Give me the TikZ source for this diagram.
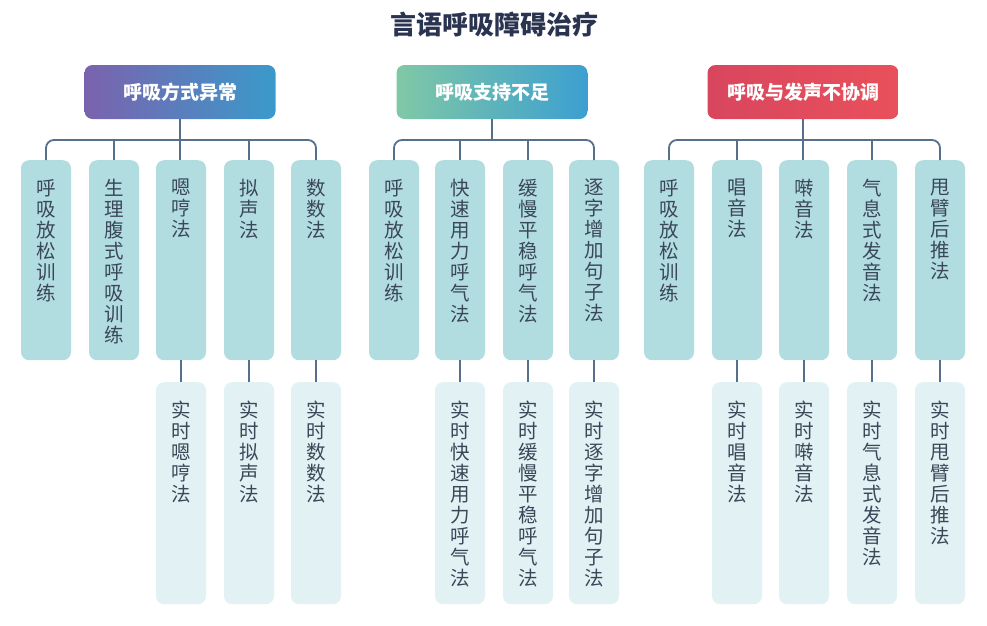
\documentclass[tikz,border=0pt]{standalone}
\usepackage{fontspec}
\usepackage{tikz}
\newfontfamily\cjk{Noto Sans CJK SC}
\definecolor{titlec}{HTML}{2A3350}
\definecolor{txtc}{HTML}{3A4758}
\definecolor{linec}{HTML}{55708A}
\definecolor{upfill}{HTML}{B2DDE0}
\definecolor{lowfill}{HTML}{E2F1F3}
\definecolor{hAl}{HTML}{7B62AE}
\definecolor{hAr}{HTML}{3A9ACB}
\definecolor{hBl}{HTML}{80C8A6}
\definecolor{hBr}{HTML}{3C9FD0}
\definecolor{hCl}{HTML}{D8465E}
\definecolor{hCr}{HTML}{E9505B}
\newcommand\vlab[2]{\parbox[t][#1][t]{50pt}{\centering\vspace*{19pt}#2}}

\begin{document}
\begin{tikzpicture}[x=1pt,y=-1pt,
  hdr/.style={rounded corners=8pt, minimum width=191pt, minimum height=54pt, text=white, font=\cjk\bfseries\fontsize{19}{19}\selectfont},
  upbox/.style={anchor=north, fill=upfill, rounded corners=8pt, inner sep=0pt, text=txtc, font=\cjk\fontsize{19.5}{21}\selectfont},
  lowbox/.style={upbox, fill=lowfill},
  conn/.style={draw=linec, line width=1.8pt}]
\useasboundingbox (0,0) rectangle (987,625);
\node[text=titlec, font=\cjk\bfseries\fontsize{26}{26}\selectfont] (title) at (494,25) {言语呼吸障碍治疗};
% headers
\node[hdr, left color=hAl, right color=hAr] (h1) at (180,92) {呼吸方式异常};
\node[hdr, left color=hBl, right color=hBr] (h2) at (492,92) {呼吸支持不足};
\node[hdr, left color=hCl, right color=hCr] (h3) at (803,92) {呼吸与发声不协调};
% first group
\node[upbox] (a1) at (46,160) {\vlab{200pt}{呼\\吸\\放\\松\\训\\练}};
\node[upbox] (a2) at (114,160) {\vlab{200pt}{生\\理\\腹\\式\\呼\\吸\\训\\练}};
\node[upbox] (a3) at (181,160) {\vlab{200pt}{嗯\\哼\\法}};
\node[upbox] (a4) at (249,160) {\vlab{200pt}{拟\\声\\法}};
\node[upbox] (a5) at (316,160) {\vlab{200pt}{数\\数\\法}};
\node[lowbox] (la3) at (181,382) {\vlab{222pt}{实\\时\\嗯\\哼\\法}};
\node[lowbox] (la4) at (249,382) {\vlab{222pt}{实\\时\\拟\\声\\法}};
\node[lowbox] (la5) at (316,382) {\vlab{222pt}{实\\时\\数\\数\\法}};
% second group
\node[upbox] (b1) at (394,160) {\vlab{200pt}{呼\\吸\\放\\松\\训\\练}};
\node[upbox] (b2) at (460,160) {\vlab{200pt}{快\\速\\用\\力\\呼\\气\\法}};
\node[upbox] (b3) at (528,160) {\vlab{200pt}{缓\\慢\\平\\稳\\呼\\气\\法}};
\node[upbox] (b4) at (594,160) {\vlab{200pt}{逐\\字\\增\\加\\句\\子\\法}};
\node[lowbox] (lb2) at (460,382) {\vlab{222pt}{实\\时\\快\\速\\用\\力\\呼\\气\\法}};
\node[lowbox] (lb3) at (528,382) {\vlab{222pt}{实\\时\\缓\\慢\\平\\稳\\呼\\气\\法}};
\node[lowbox] (lb4) at (594,382) {\vlab{222pt}{实\\时\\逐\\字\\增\\加\\句\\子\\法}};
% third group
\node[upbox] (c1) at (669,160) {\vlab{200pt}{呼\\吸\\放\\松\\训\\练}};
\node[upbox] (c2) at (737,160) {\vlab{200pt}{唱\\音\\法}};
\node[upbox] (c3) at (804,160) {\vlab{200pt}{啭\\音\\法}};
\node[upbox] (c4) at (872,160) {\vlab{200pt}{气\\息\\式\\发\\音\\法}};
\node[upbox] (c5) at (940,160) {\vlab{200pt}{甩\\臂\\后\\推\\法}};
\node[lowbox] (lc2) at (737,382) {\vlab{222pt}{实\\时\\唱\\音\\法}};
\node[lowbox] (lc3) at (804,382) {\vlab{222pt}{实\\时\\啭\\音\\法}};
\node[lowbox] (lc4) at (872,382) {\vlab{222pt}{实\\时\\气\\息\\式\\发\\音\\法}};
\node[lowbox] (lc5) at (940,382) {\vlab{222pt}{实\\时\\甩\\臂\\后\\推\\法}};
% connectors
\coordinate (barA) at (180,140);
\coordinate (barB) at (492,140);
\coordinate (barC) at (803,140);
\draw[conn, rounded corners=8pt] (a1.north) |- (barA) -| (a5.north);
\draw[conn] (h1.south) -- (h1.south |- a3.north);
\draw[conn] (a2.north) -- (a2.north |- barA);
\draw[conn] (a4.north) -- (a4.north |- barA);
\draw[conn, rounded corners=8pt] (b1.north) |- (barB) -| (b4.north);
\draw[conn] (h2.south) -- (barB);
\draw[conn] (b2.north) -- (b2.north |- barB);
\draw[conn] (b3.north) -- (b3.north |- barB);
\draw[conn, rounded corners=8pt] (c1.north) |- (barC) -| (c5.north);
\draw[conn] (h3.south) -- (h3.south |- c3.north);
\draw[conn] (c2.north) -- (c2.north |- barC);
\draw[conn] (c4.north) -- (c4.north |- barC);
\draw[conn] (a3.south) -- (la3.north);
\draw[conn] (a4.south) -- (la4.north);
\draw[conn] (a5.south) -- (la5.north);
\draw[conn] (b2.south) -- (lb2.north);
\draw[conn] (b3.south) -- (lb3.north);
\draw[conn] (b4.south) -- (lb4.north);
\draw[conn] (c2.south) -- (lc2.north);
\draw[conn] (c3.south) -- (lc3.north);
\draw[conn] (c4.south) -- (lc4.north);
\draw[conn] (c5.south) -- (lc5.north);
\end{tikzpicture}
\end{document}
